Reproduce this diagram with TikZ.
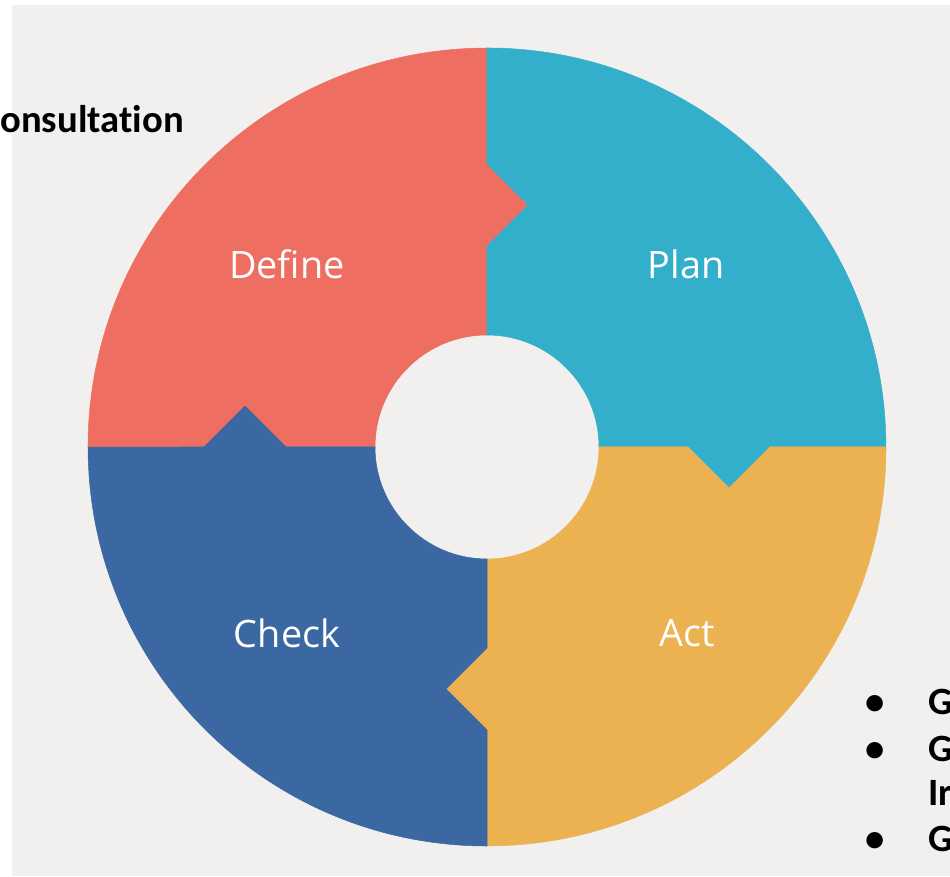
\documentclass[tikz,border=0pt]{standalone}
\usepackage{fontspec}
\setmainfont{Open Sans}
\newfontfamily\calibri[Ligatures=NoCommon]{Carlito}
\usetikzlibrary{positioning}
\definecolor{defred}{RGB}{238,111,97}
\definecolor{planblue}{RGB}{52,175,203}
\definecolor{actorange}{RGB}{236,177,80}
\definecolor{checkblue}{RGB}{59,104,163}
\definecolor{bggray}{RGB}{241,240,239}
\tikzstyle{stage} = [text=white, font=\fontsize{21.5}{24}\selectfont, inner sep=0pt, anchor=base]
\tikzstyle{note} = [font=\calibri\bfseries\fontsize{22}{26}\selectfont, inner sep=0pt, anchor=base west]
\tikzstyle{dot} = [font=\calibri\bfseries\fontsize{22}{26}\selectfont, inner sep=0pt, anchor=base]

\begin{document}
\begin{tikzpicture}[x=0.02cm, y=0.02cm]
\useasboundingbox (0,0) rectangle (950,876);
\fill[white] (0,0) rectangle (950,876);
\fill[bggray] (12,0) rectangle (950,871);

% four quarters, each one notched into the next
\foreach \ang/\col in {0/defred,-90/planblue,-180/actorange,-270/checkblue}{
  \begin{scope}[shift={(487,429)}, rotate=\ang]
    \filldraw[\col, line width=0.3pt] (-112,0) -- (-201,0) -- (-242,41) -- (-283,0) -- (-399,0)
      arc[start angle=180, end angle=90, radius=7.98cm] -- (0,283) -- (41,242) -- (0,201) -- (0,112)
      arc[start angle=90, end angle=180, radius=2.24cm] -- cycle;
  \end{scope}
}

\node[stage] (define) at (287,597) {Define};
\node[stage] (plan) at (686,597) {Plan};
\node[stage] (check) at (287,228) {Check};
\node[stage] (act) at (687,229) {Act};

\node[note] (consult) at (0,743) {onsultation};

\node[dot] (b1) at (875,161) {•};
\node[dot] (b2) at (875,114) {•};
\node[dot] (b3) at (875,25) {•};
\node[note] (g1) at (928,161) {G};
\node[note] (g2) at (928,114) {G};
\node[note] (g3) at (928,71) {Ir};
\node[note] (g4) at (928,25) {G};
\end{tikzpicture}
\end{document}
